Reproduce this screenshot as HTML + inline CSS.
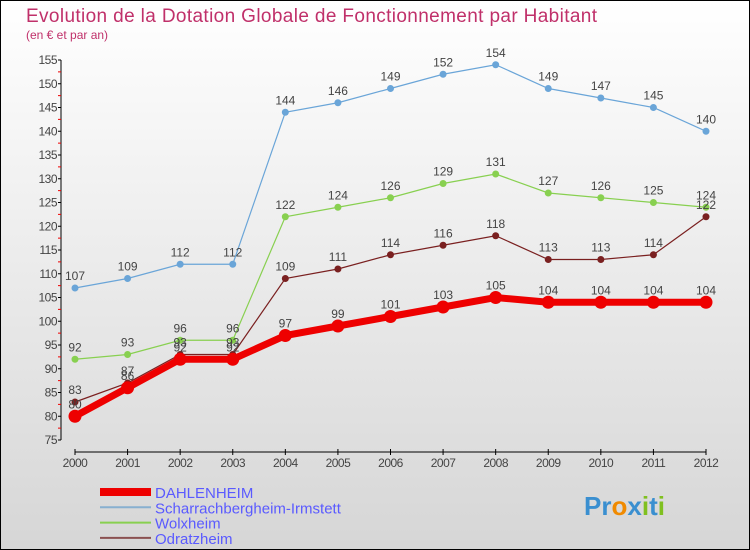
<!DOCTYPE html>
<html><head><meta charset="utf-8"><style>
body{margin:0}
#c{width:750px;height:550px;position:relative;box-sizing:border-box;border:1px solid #000;background:linear-gradient(#ffffff,#d6d6d6);overflow:hidden;font-family:"Liberation Sans",sans-serif}
</style></head><body>
<div id="c">
<svg id="s" width="750" height="550" style="position:absolute;left:-1px;top:-1px" font-family="Liberation Sans, sans-serif">
<text x="26" y="22" font-size="19" fill="#c0306a" textLength="571">Evolution de la Dotation Globale de Fonctionnement par Habitant</text>
<text x="26" y="39" font-size="12" fill="#c0306a">(en € et par an)</text>
<text x="584" y="515" font-size="26" font-weight="bold"><tspan fill="#3a8fd0">Pr</tspan><tspan fill="#f08a00">o</tspan><tspan fill="#3a8fd0">x</tspan><tspan fill="#80c020">i</tspan><tspan fill="#3a8fd0">t</tspan><tspan fill="#80c020">i</tspan></text>
</svg>
</div>
<script>
const years=["2000","2001","2002","2003","2004","2005","2006","2007","2008","2009","2010","2011","2012"];
const dahlenheim=[80,86,92,92,97,99,101,103,105,104,104,104,104];
const scharrach=[107,109,112,112,144,146,149,152,154,149,147,145,140];
const wolxheim=[92,93,96,96,122,124,126,129,131,127,126,125,124];
const odratzheim=[83,87,93,93,109,111,114,116,118,113,113,114,122];
const yTicks=[75,80,85,90,95,100,105,110,115,120,125,130,135,140,145,150,155];
const NS="http://www.w3.org/2000/svg",s=document.getElementById('s');
const X=i=>75+i*(706-75)/12, Y=v=>440-(v-75)*(380/80);
function el(t,a,p){const e=document.createElementNS(NS,t);for(const k in a)e.setAttribute(k,a[k]);(p||s).appendChild(e);return e;}
const ax=el('g',{});


el('line',{x1:61,y1:Y(155),x2:61,y2:Y(75),stroke:'#000'},ax);
el('line',{x1:75,y1:452,x2:706,y2:452,stroke:'#000'},ax);
yTicks.forEach(v=>{el('line',{x1:58,x2:61,y1:Y(v),y2:Y(v),stroke:'#000'},ax);
 if(v<155)el('line',{x1:58,x2:61,y1:Y(v+2.5),y2:Y(v+2.5),stroke:'#e00'},ax);
 const t=el('text',{x:57,y:Y(v)+4,'font-size':12,fill:'#444','text-anchor':'end','letter-spacing':'-0.5'},ax);t.textContent=v;
 });
years.forEach((y,i)=>{el('line',{x1:X(i),x2:X(i),y1:449,y2:455,stroke:'#000'},ax);
 const t=el('text',{x:X(i),y:467,'font-size':12,fill:'#444','text-anchor':'middle','letter-spacing':'-0.5'},ax);t.textContent=y;
 });
function series(d,col,w,r,name){
 const g=el('g',{});
 
 
 el('polyline',{points:d.map((v,i)=>X(i)+','+Y(v)).join(' '),fill:'none',stroke:col,'stroke-width':w},g);
 d.forEach((v,i)=>{const c=el('circle',{cx:X(i),cy:Y(v),r:r,fill:col},g);
  
  const t=el('text',{x:X(i),y:Y(v)-8,'font-size':12,fill:'#444','text-anchor':'middle'},g);t.textContent=v;});
}
series(scharrach,'#6aa5d8',1.2,3.5,'series-scharrachbergheim');
series(wolxheim,'#88d050',1.2,3.5,'series-wolxheim');
series(odratzheim,'#7a2020',1.2,3.5,'series-odratzheim');
series(dahlenheim,'#ee0000',7,6.5,'series-dahlenheim');
const leg=[["DAHLENHEIM","#ee0000",8],["Scharrachbergheim-Irmstett","#88b0d0",2],["Wolxheim","#88d050",2],["Odratzheim","#8a5050",2]];
leg.forEach((l,i)=>{const y=492+i*15.3;const g=el('g',{});
 
 el('line',{x1:100,x2:151,y1:y,y2:y,stroke:l[1],'stroke-width':l[2]},g);
 const t=el('text',{x:155,y:y+6,'font-size':15,fill:'#5a5aff'},g);t.textContent=l[0];});
</script>
</body></html>
